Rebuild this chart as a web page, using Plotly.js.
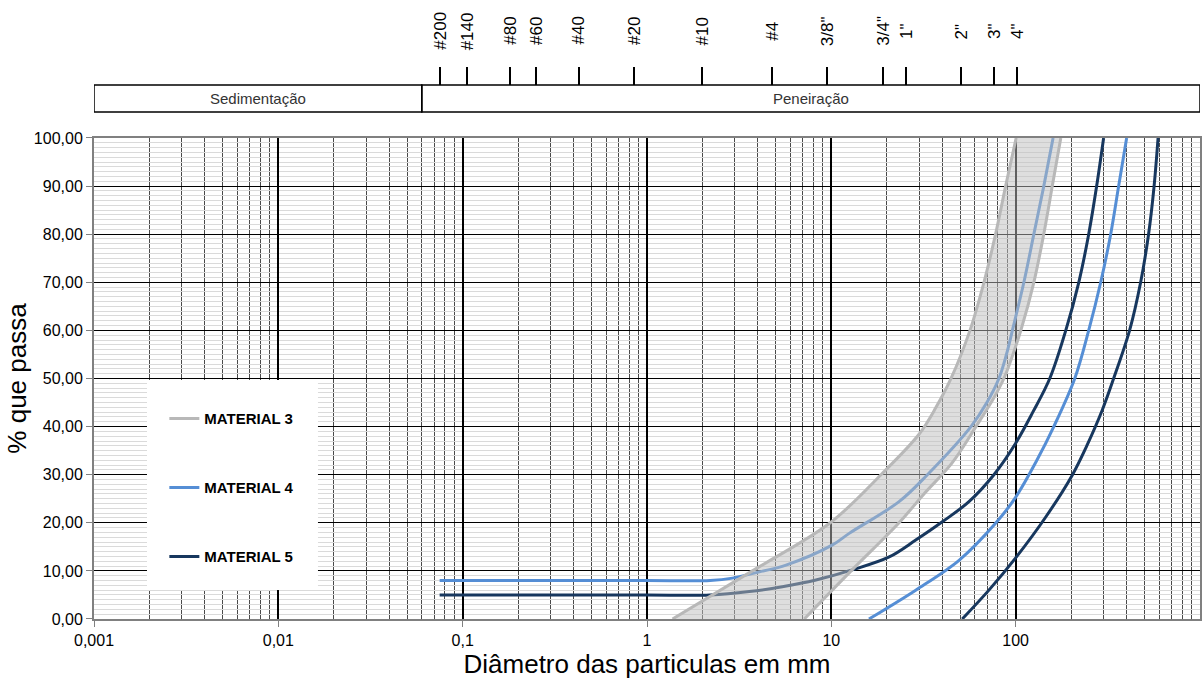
<!DOCTYPE html>
<html><head><meta charset="utf-8">
<script src="https://cdn.plot.ly/plotly-3.0.1.min.js"></script>
<style>html,body{margin:0;padding:0;background:#fff}#chart{width:1204px;height:689px}</style>
</head><body><div id="chart"></div>
<script>
// ---- Data (particle diameter in mm, % passing) ----
const m3FineX   = [1.376, 3.73, 9.86, 18.6, 29.9, 36.98, 44.6, 56.5, 67.3, 77.8, 88.2, 100.6];
const m3FineY   = [0, 10, 20, 30, 38.4, 44, 50, 60, 70, 80, 90, 100];
const m3CoarseX = [7.13, 12.8, 23.3, 31.8, 45.1, 60.9, 76.2, 86.3, 96.6, 106.7, 125.5, 142, 158, 175.7];
const m3CoarseY = [0, 10, 20, 26, 32.4, 40, 46, 50, 55, 60, 70, 80, 90, 100];

const m4FineX   = [0.075, 0.3, 1, 2.2, 2.91, 4.07, 5.68, 10.15, 12.5, 23.3, 33.2, 57.2, 69.8, 81.1, 89.1, 96, 110.8, 125.5, 142.1, 159.6];
const m4FineY   = [8, 8, 8, 8, 8.5, 9.8, 11.2, 15.4, 17.8, 24.4, 30, 40, 45, 50, 55, 60, 70, 80, 90, 100];
const m4CoarseX = [16, 28.7, 49.3, 77.8, 99.9, 130.3, 161, 209.2, 249, 289.3, 327.7, 362, 400];
const m4CoarseY = [0, 6, 12.2, 19.9, 25.3, 33, 40, 50, 60, 70, 80, 90, 100];

const m5FineX   = [0.075, 0.3, 1, 2.2, 3.59, 5.42, 8.25, 12.97, 20.6, 28.7, 40, 55.8, 76.2, 99.8, 123.9, 153.1, 187, 220, 249, 275, 300];
const m5FineY   = [5, 5, 5, 5, 5.7, 6.7, 8.1, 10.2, 12.9, 16.4, 20.2, 24.4, 30, 36.5, 43, 50, 60, 70, 80, 90, 100];
const m5CoarseX = [51.3, 71.6, 100, 145, 202, 243, 294, 340, 415, 476.4, 526, 563.6, 592.3];
const m5CoarseY = [0, 6, 12.7, 21.1, 29.8, 36, 43.3, 50, 60, 70, 80, 90, 100];

const seriesNames = ['MATERIAL 3', 'MATERIAL 4', 'MATERIAL 5'];

// Sieves (mm) and labels
const sieveMm     = [0.075, 0.106, 0.18, 0.25, 0.425, 0.85, 2.0, 4.75, 9.5, 19.0, 25.4, 50.8, 76.2, 101.6];
const sieveLabels = ['#200', '#140', '#80', '#60', '#40', '#20', '#10', '#4', '3/8"', '3/4"', '1"', '2"', '3"', '4"'];

const xTickVals = [0.001, 0.01, 0.1, 1, 10, 100];
const xTickText = ['0,001', '0,01', '0,1', '1', '10', '100'];
const sedLimit = 0.06;               // sedimentação / peneiração boundary (mm)
const bandLabels = ['Sedimentação', 'Peneiração'];

// ---- styling ----
const FONT = 'Liberation Sans, Arial, sans-serif';
const cGray = '#b8b8b8', cBlue = '#558ed5', cNavy = '#17375e';
const LW = 3;

// geometry (paper fractions)
const Y_PLOT_TOP = 0.7771, Y_BOX_TOP = 0.8627, Y_BOX_BOT = 0.8191, Y_LBL = 0.9499;

const minorVals = [];
for (let e = -3; e < 3; e++) for (let d = 2; d <= 9; d++) minorVals.push(d * Math.pow(10, e));

const lineTrace = (x, y, color, name, show, rank, extra) => Object.assign({
  type: 'scatter', mode: 'lines', x, y, name,
  line: {color, width: LW, shape: 'spline', smoothing: 1},
  showlegend: show, legendgroup: name, legendrank: rank, hoverinfo: 'skip'
}, extra || {});

const data = [
  lineTrace(m4FineX, m4FineY, cBlue, seriesNames[1], true, 2),
  lineTrace(m4CoarseX, m4CoarseY, cBlue, seriesNames[1], false, 2),
  lineTrace(m5FineX, m5FineY, cNavy, seriesNames[2], true, 3),
  lineTrace(m5CoarseX, m5CoarseY, cNavy, seriesNames[2], false, 3),
  lineTrace(m3FineX, m3FineY, cGray, seriesNames[0], true, 1),
  lineTrace(m3CoarseX, m3CoarseY, cGray, seriesNames[0], false, 1,
            {fill: 'tonexty', fillcolor: 'rgba(190,190,190,0.5)'}),
  {type: 'scatter', mode: 'markers', x: sieveMm, y: sieveMm.map(() => null),
   xaxis: 'x2', yaxis: 'y', showlegend: false, hoverinfo: 'skip', marker: {opacity: 0}}
];

const annotations = sieveMm.map((v, i) => ({
  xref: 'x', yref: 'paper', x: Math.log10(v), y: Y_LBL, text: sieveLabels[i],
  textangle: -90, showarrow: false, xanchor: 'center', yanchor: 'middle',
  font: {family: FONT, size: 17, color: '#000'}
}));
annotations.push({
  xref: 'x', yref: 'paper', x: (-3 + Math.log10(sedLimit)) / 2, y: (Y_BOX_TOP + Y_BOX_BOT) / 2,
  xanchor: 'center', yanchor: 'middle',
  text: bandLabels[0], showarrow: false, font: {family: FONT, size: 15, color: '#333'}
});
annotations.push({
  xref: 'x', yref: 'paper', x: (Math.log10(sedLimit) + 3) / 2, y: (Y_BOX_TOP + Y_BOX_BOT) / 2,
  xanchor: 'center', yanchor: 'middle',
  text: bandLabels[1], showarrow: false, font: {family: FONT, size: 15, color: '#333'}
});

const shapes = [
  {type: 'rect', xref: 'x', yref: 'paper', x0: 0.001, x1: sedLimit, y0: Y_BOX_BOT, y1: Y_BOX_TOP,
   line: {color: '#000', width: 1.5}},
  {type: 'rect', xref: 'x', yref: 'paper', x0: sedLimit, x1: 1000, y0: Y_BOX_BOT, y1: Y_BOX_TOP,
   line: {color: '#000', width: 1.5}},
  {type: 'rect', xref: 'paper', yref: 'paper', x0: 0.0479, x1: 0.2025, y0: 0.0468, y1: 0.3861,
   layer: 'above', fillcolor: '#ffffff', line: {width: 0}}
];

const layout = {
  width: 1204, height: 689,
  margin: {l: 94, r: 4, t: 0, b: 70},
  paper_bgcolor: '#fff', plot_bgcolor: '#fff',
  separators: ',.',
  font: {family: FONT, size: 16, color: '#000'},
  showlegend: true,
  legend: {x: 0.0636, y: 0.350, xanchor: 'left', yanchor: 'top', bgcolor: 'rgba(0,0,0,0)',
           borderwidth: 0, traceorder: 'grouped', tracegroupgap: 46.5,
           font: {family: FONT, size: 15, color: '#000', weight: 'bold'}},
  xaxis: {
    type: 'log', range: [-3, 3], tickvals: xTickVals, ticktext: xTickText,
    ticks: 'outside', ticklen: 6, tickcolor: '#808080', tickwidth: 1,
    showline: true, linecolor: '#808080', linewidth: 2, mirror: true,
    showgrid: true, gridcolor: '#000', gridwidth: 2, zeroline: false,
    minor: {tickmode: 'array', tickvals: minorVals, showgrid: true, gridcolor: '#4a4a4a', gridwidth: 1, ticks: ''},
    tickfont: {family: FONT, size: 16, color: '#000'},
    title: {text: 'Diâmetro das particulas em mm', font: {family: FONT, size: 26, color: '#000'}, standoff: 6}
  },
  yaxis: {
    range: [0, 100], domain: [0, Y_PLOT_TOP], dtick: 10, tick0: 0, tickformat: '.2f',
    ticks: 'outside', ticklen: 6, tickcolor: '#808080', tickwidth: 1,
    showline: true, linecolor: '#808080', linewidth: 2, mirror: true,
    showgrid: true, gridcolor: '#000', gridwidth: 1, zeroline: false,
    minor: {dtick: 1, showgrid: true, gridcolor: '#dadada', gridwidth: 1, ticks: ''},
    tickfont: {family: FONT, size: 16, color: '#000'},
    title: {text: '% que passa', font: {family: FONT, size: 26, color: '#000'}, standoff: 0}
  },
  xaxis2: {
    type: 'log', range: [-3, 3], overlaying: 'x', side: 'top', anchor: 'free', position: Y_BOX_TOP,
    tickmode: 'array', tickvals: sieveMm, ticks: 'outside', ticklen: 18, tickwidth: 2, tickcolor: '#000',
    showticklabels: false, showgrid: false, showline: false, zeroline: false
  },
  shapes, annotations
};

Plotly.newPlot('chart', data, layout, {staticPlot: true, displayModeBar: false});
</script>
</body></html>
